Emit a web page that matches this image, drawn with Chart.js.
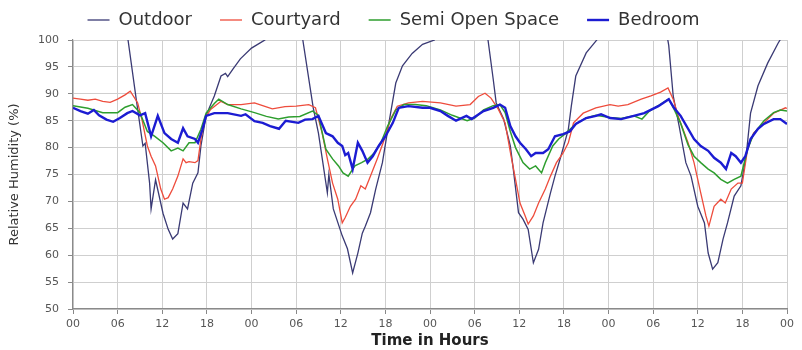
<!DOCTYPE html>
<html>
<head>
<meta charset="utf-8">
<script src="https://cdn.jsdelivr.net/npm/chart.js@4/dist/chart.umd.min.js"></script>
<style>
  html, body { margin: 0; padding: 0; background: #ffffff; }
  #wrap { width: 802px; height: 350px; }
</style>
</head>
<body>
<div id="wrap"><canvas id="rh"></canvas></div>
<script>
// Relative humidity over four days, sampled at irregular hours (0 = first midnight)
const hourLabels = ['00', '06', '12', '18'];

const outdoorHours = [0, 3, 6, 7.4, 8.5, 9.4, 9.7, 10.3, 10.5, 11.1, 12.1, 12.8, 13.4, 14.1, 14.8, 15.4, 16.1, 16.8, 17.2, 17.9, 19, 19.9, 20.5, 20.8, 21.5, 22.5, 24, 25.8, 27, 29, 30.5, 30.9, 32.3, 33, 34.2, 34.4, 35, 36.2, 36.9, 37.6, 38.3, 38.9, 39.3, 40, 40.7, 41.6, 42.4, 43.4, 44.3, 45.6, 47, 48.6, 50, 53, 55.3, 55.8, 56.5, 56.9, 57.9, 58.8, 59.2, 59.9, 60.5, 61.2, 61.9, 62.6, 63.2, 64.2, 64.8, 65.6, 66.6, 67, 67.6, 69, 70.3, 71, 74, 78, 79.6, 80.1, 80.7, 81.5, 82.4, 83.1, 84, 84.9, 85.4, 86, 86.7, 87.4, 88, 88.9, 89.8, 90.5, 91.1, 92.1, 93.4, 94.8, 95.5, 96];
const outdoorRH = [112, 113, 109, 100, 89, 80.3, 80.8, 73.4, 68.6, 74, 67.8, 64.8, 63, 64, 69.7, 68.6, 73.4, 75.3, 80.3, 86, 89.6, 93.3, 93.8, 93.2, 94.6, 96.5, 98.5, 100, 104, 106, 103, 100, 87.4, 82.7, 71.6, 75, 68.6, 63.6, 61.2, 56.7, 60.4, 64.1, 65.4, 67.9, 72.3, 77.2, 84, 92, 95.2, 97.5, 99.2, 100, 104, 106, 103, 100, 92.7, 88.3, 85.3, 80.3, 76, 67.9, 66.7, 64.8, 58.6, 61.1, 66, 71.6, 74.7, 78.4, 83.4, 87.7, 93.3, 97.6, 99.8, 101, 106, 106, 103, 99, 89.6, 84, 77.2, 74.7, 69.1, 66, 60.4, 57.4, 58.6, 63, 66, 71, 72.9, 78.4, 86.4, 91.5, 95.7, 99.4, 101, 102];

const courtyardHours = [0, 1, 2, 3, 4, 5, 6, 7, 7.7, 8.7, 9.3, 10, 10.5, 11.1, 11.8, 12.3, 12.8, 13.4, 14.1, 14.8, 15.2, 15.6, 16.4, 16.8, 17.2, 17.7, 18.5, 19.9, 20.8, 22.6, 24.4, 25.5, 26.8, 28.5, 30, 31.7, 32.6, 33.5, 34.2, 34.9, 35.6, 36.2, 36.6, 37.3, 38, 38.7, 39.3, 40, 40.9, 41.7, 42.7, 43.6, 45.1, 47, 49.4, 51.5, 53.4, 54.5, 55.4, 56.2, 57.2, 58.1, 58.9, 59.5, 60.1, 60.8, 61.2, 61.9, 62.6, 63.5, 64.2, 65, 65.9, 66.6, 67.3, 68.6, 70.3, 72.2, 73.3, 74.6, 76.4, 77.7, 79, 80, 80.7, 81.5, 82.7, 83.5, 84.4, 85.1, 85.5, 86.2, 87.1, 87.7, 88.5, 89.4, 90, 90.7, 91.5, 92.9, 94.2, 95.8, 96];
const courtyardRH = [89.2, 89, 88.8, 89, 88.6, 88.4, 89, 89.8, 90.5, 88.3, 85, 80.3, 78.4, 76.6, 72.3, 70.4, 70.7, 72.3, 74.7, 77.9, 77.2, 77.4, 77.2, 77.6, 81.6, 85.3, 87.1, 88.6, 88, 88, 88.3, 87.8, 87.2, 87.6, 87.7, 88, 87.4, 82.7, 77.9, 73.4, 70.4, 66, 67, 69.1, 70.4, 72.9, 72.3, 74.7, 77.9, 80.9, 85.3, 87.7, 88.3, 88.6, 88.3, 87.7, 88, 89.5, 90.1, 89.2, 87.1, 84.6, 78.4, 74.1, 69.7, 67.3, 65.8, 67.3, 69.7, 72.3, 74.7, 77.2, 79, 80.9, 84.6, 86.4, 87.4, 88, 87.7, 88, 89, 89.6, 90.3, 91.1, 89, 85.3, 80.9, 77.2, 71.6, 67.3, 65.4, 69.1, 70.4, 69.7, 72.3, 73.4, 73.4, 79.7, 82.7, 84.6, 86.4, 87.4, 87.3];

const semiOpenHours = [0, 2, 4, 6, 7, 8, 9, 10, 11, 12.1, 13.2, 14.1, 14.8, 15.6, 16.4, 17.2, 17.9, 19, 19.6, 20.8, 22.6, 24.4, 26, 27.6, 29, 30.5, 32.2, 33, 34, 34.9, 35.7, 36.3, 37, 37.9, 38.8, 39.7, 40.5, 41.4, 42.3, 43.4, 44.5, 46, 47.5, 49.4, 51, 53, 54, 55.2, 56.5, 57.4, 58.1, 58.8, 59.5, 60.5, 61.4, 62.2, 63, 63.5, 64.5, 65.3, 66.3, 67.6, 69, 70.3, 72.2, 73.7, 75.4, 76.5, 77.5, 78.7, 80.1, 80.8, 81.7, 82.7, 83.5, 84.4, 85.4, 86.2, 87.1, 88, 88.9, 89.8, 90.7, 91.5, 92.9, 94.2, 95.1, 96];
const semiOpenRH = [87.8, 87.3, 86.5, 86.5, 87.5, 88, 86.5, 83, 82.1, 80.9, 79.4, 79.9, 79.4, 80.9, 80.9, 83.4, 86.4, 88.2, 89, 88, 87.2, 86.5, 85.8, 85.3, 85.7, 85.8, 86.8, 86, 79.7, 77.9, 76.6, 75.3, 74.7, 76.6, 77.2, 77.9, 79, 80.9, 84, 87, 88, 88, 87.8, 87, 86, 85, 85.5, 87, 87.8, 88, 86.5, 83, 80, 77.2, 76, 76.6, 75.3, 77.2, 80.3, 81.6, 82.7, 84.4, 85.5, 86, 85.6, 85.4, 85.9, 85.3, 86.8, 87.8, 89, 87.2, 84.5, 80.5, 78.4, 77.2, 76, 75.3, 74.1, 73.4, 74.1, 74.7, 79.7, 82.5, 85, 86.5, 87, 86.8];

const bedroomHours = [0, 1, 2, 2.8, 3.5, 4.5, 5.4, 6.3, 7.3, 8, 9, 9.7, 10.5, 11.4, 12.3, 13.2, 14.1, 14.8, 15.4, 16.4, 16.8, 17.4, 17.9, 19, 20.8, 22.6, 23.2, 24.4, 25.5, 26.5, 27.7, 28.6, 30.3, 31.2, 32.2, 33, 34, 34.9, 35.6, 36.2, 36.6, 37, 37.6, 38.3, 38.9, 39.6, 40.3, 41.1, 42, 43, 43.8, 45.1, 47, 48, 49.4, 50.4, 51.5, 52.9, 53.6, 55.2, 56.5, 57.4, 58.1, 58.8, 59.5, 60.1, 60.9, 61.6, 62.2, 63.2, 63.9, 64.8, 65.9, 66.8, 67.6, 69, 70.3, 71, 72.2, 73.7, 75.4, 76.8, 78.7, 80.1, 80.8, 81.7, 82.7, 83.5, 84.4, 85.4, 86.2, 87.1, 87.8, 88.5, 89.1, 89.8, 90.4, 91.1, 92.1, 92.9, 94.2, 95.1, 96];
const bedroomRH = [87.4, 86.8, 86.3, 87, 86, 85.2, 84.8, 85.5, 86.4, 86.8, 86, 86.4, 82.1, 85.9, 82.7, 81.6, 80.9, 83.6, 82.1, 81.6, 80.9, 83.4, 85.9, 86.4, 86.4, 85.9, 86.2, 84.9, 84.6, 84, 83.5, 85, 84.6, 85.2, 85.3, 85.9, 82.7, 82.1, 80.9, 80.3, 78.6, 79, 76, 80.9, 79.4, 77.2, 78.4, 80.3, 82.1, 84.6, 87.4, 87.7, 87.4, 87.4, 86.8, 85.9, 85, 85.9, 85.3, 86.8, 87.4, 88, 87.4, 84, 82.1, 80.9, 79.7, 78.4, 79, 79, 79.7, 82.1, 82.5, 83, 84.4, 85.5, 85.9, 86.2, 85.5, 85.3, 85.9, 86.4, 87.7, 89, 87.4, 85.9, 83.5, 81.6, 80.3, 79.4, 78.1, 77.2, 76, 79, 78.4, 77.2, 78.4, 81.6, 83.5, 84.4, 85.3, 85.3, 84.4];

const toPoints = (xs, ys) => xs.map((x, i) => ({ x: x, y: ys[i] }));

const series = [
  { label: 'Outdoor', hours: outdoorHours, values: outdoorRH, color: '#3a3a74', width: 1.3, order: 3 },
  { label: 'Courtyard', hours: courtyardHours, values: courtyardRH, color: '#ee4c3c', width: 1.3, order: 2 },
  { label: 'Semi Open Space', hours: semiOpenHours, values: semiOpenRH, color: '#2e9e2e', width: 1.5, order: 1 },
  { label: 'Bedroom', hours: bedroomHours, values: bedroomRH, color: '#1c1cd2', width: 2.4, order: 0 }
];

const LEGEND_GAP = 28;   // horizontal space between legend entries
const LEGEND_ROW = 40;   // height reserved for the legend row
const LEGEND_LIFT = 17;  // pulls the entries up so they sit centred in the row

// Keep a fixed legend row height, and lift the entries so the wide
// horizontal padding does not push them down into the plot
const legendRow = {
  id: 'legendRow',
  beforeInit(chart) {
    const fit = chart.legend.fit;
    chart.legend.fit = function () {
      fit.call(this);
      this.height = LEGEND_ROW;
    };
  },
  afterLayout(chart) {
    chart.legend.top -= LEGEND_LIFT;
  }
};

new Chart(document.getElementById('rh'), {
  type: 'line',
  data: {
    datasets: series.map(s => ({
      label: s.label,
      data: toPoints(s.hours, s.values),
      borderColor: s.color,
      backgroundColor: s.color,
      borderWidth: s.width,
      pointRadius: 0,
      tension: 0,
      fill: false,
      order: s.order,
      clip: 0
    }))
  },
  options: {
    responsive: true,
    maintainAspectRatio: false,
    animation: false,
    layout: { padding: { left: 0, right: 15, top: 0, bottom: 0 } },
    plugins: {
      tooltip: { enabled: false },
      legend: {
        position: 'top',
        align: 'center',
        labels: {
          usePointStyle: true,
          pointStyle: 'line',
          pointStyleWidth: 22,
          boxHeight: 12,
          padding: LEGEND_GAP,
          color: '#333333',
          font: { family: 'DejaVu Sans', size: 18 },
          sort: (a, b) => a.datasetIndex - b.datasetIndex
        }
      }
    },
    scales: {
      x: {
        type: 'linear',
        min: 0,
        max: 96,
        afterFit(scale) { scale.height = 41; },
        ticks: {
          stepSize: 6,
          autoSkip: false,
          maxRotation: 0,
          padding: 4,
          color: '#555555',
          font: { family: 'DejaVu Sans', size: 11 },
          callback: (v) => hourLabels[(v % 24) / 6]
        },
        grid: { color: '#cfcfcf', lineWidth: 1, tickLength: 5, tickColor: '#888888' },
        border: { color: '#8a8a8a', width: 1.2 },
        title: {
          display: true,
          text: 'Time in Hours',
          color: '#222222',
          font: { family: 'DejaVu Sans', size: 15, weight: 'bold' },
          padding: { top: 0, bottom: 0 }
        }
      },
      y: {
        min: 50,
        max: 100,
        afterFit(scale) { scale.width = 73; },
        ticks: {
          stepSize: 5,
          padding: 9,
          color: '#555555',
          font: { family: 'DejaVu Sans', size: 11 }
        },
        grid: { color: '#cfcfcf', lineWidth: 1, tickLength: 5, tickColor: '#888888' },
        border: { color: '#8a8a8a', width: 1.2 },
        title: {
          display: true,
          text: 'Relative Humidity (%)',
          color: '#333333',
          font: { family: 'DejaVu Sans', size: 13 },
          padding: { top: 7, bottom: 2 }
        }
      }
    }
  },
  plugins: [legendRow]
});
</script>
</body>
</html>
